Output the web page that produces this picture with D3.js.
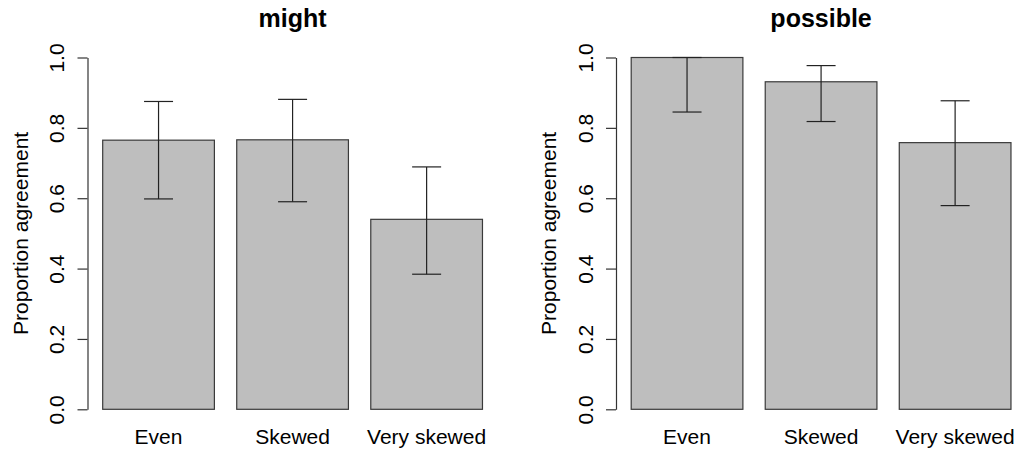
<!DOCTYPE html>
<html>
<head>
<meta charset="utf-8">
<script src="https://cdn.jsdelivr.net/npm/d3@7"></script>
<style>
  body { margin: 0; background: #fff; }
  svg { display: block; font-family: "Liberation Sans", Arial, Helvetica, sans-serif; }
</style>
</head>
<body>
<svg id="chart" width="1016" height="451"></svg>
<script>
const categories = ["Even", "Skewed", "Very skewed"];
const panelTitles = ["might", "possible"];
const mightValues = [0.765, 0.766, 0.540];
const mightLower = [0.598, 0.590, 0.384];
const mightUpper = [0.875, 0.881, 0.689];
const possibleValues = [1.000, 0.931, 0.758];
const possibleLower = [0.845, 0.818, 0.579];
const possibleUpper = [1.000, 0.977, 0.877];
const yTicks = [0, 0.2, 0.4, 0.6, 0.8, 1.0];
const yLabel = "Proportion agreement";

const panels = [
  { title: panelTitles[0], values: mightValues, lower: mightLower, upper: mightUpper, x0: 87.5 },
  { title: panelTitles[1], values: possibleValues, lower: possibleLower, upper: possibleUpper, x0: 616 }
];

const svg = d3.select("#chart");
const unitPx = 111.7;
const xlim = [0.064, 3.736];
const y = d3.scaleLinear().domain([0, 1]).range([409.3, 57.5]);
const fontSize = 21;

panels.forEach(p => {
  const x = d3.scaleLinear().domain(xlim).range([p.x0, p.x0 + (xlim[1] - xlim[0]) * unitPx]);
  const g = svg.append("g");

  // bars (R barplot: space 0.2, width 1)
  const barLeft = i => 0.2 + i * 1.2;
  g.selectAll("rect.bar").data(p.values).join("rect")
    .attr("class", "bar")
    .attr("x", (d, i) => x(barLeft(i)))
    .attr("width", (d, i) => x(barLeft(i) + 1) - x(barLeft(i)))
    .attr("y", d => y(d))
    .attr("height", d => y(0) - y(d))
    .attr("fill", "#bebebe")
    .attr("stroke", "#3a3a3a")
    .attr("stroke-width", 1.2);

  // error bars
  const cx = i => x(barLeft(i) + 0.5);
  const capHalf = 14.5;
  const eb = g.selectAll("g.err").data(p.values).join("g").attr("class", "err")
    .attr("stroke", "#222").attr("stroke-width", 1.2);
  eb.append("line").attr("x1", (d, i) => cx(i)).attr("x2", (d, i) => cx(i))
    .attr("y1", (d, i) => y(p.lower[i])).attr("y2", (d, i) => y(p.upper[i]));
  eb.append("line").attr("x1", (d, i) => cx(i) - capHalf).attr("x2", (d, i) => cx(i) + capHalf)
    .attr("y1", (d, i) => y(p.upper[i])).attr("y2", (d, i) => y(p.upper[i]));
  eb.append("line").attr("x1", (d, i) => cx(i) - capHalf).attr("x2", (d, i) => cx(i) + capHalf)
    .attr("y1", (d, i) => y(p.lower[i])).attr("y2", (d, i) => y(p.lower[i]));

  // y axis
  const axis = d3.axisLeft(y).tickValues(yTicks).tickSize(10).tickSizeOuter(0)
    .tickFormat(d3.format(".1f"));
  const ag = g.append("g").attr("transform", `translate(${p.x0},0)`).call(axis);
  ag.select(".domain").attr("stroke", "#333").attr("stroke-width", 1.2);
  ag.selectAll(".tick line").attr("stroke", "#333").attr("stroke-width", 1.2);
  ag.selectAll(".tick text")
    .attr("x", null).attr("dy", null)
    .attr("transform", "translate(-23.5,0) rotate(-90)")
    .attr("text-anchor", "middle")
    .attr("fill", "#000")
    .style("font-size", fontSize + "px")
    .style("font-family", "'Liberation Sans', Arial, sans-serif");

  // x category labels
  g.selectAll("text.cat").data(categories).join("text")
    .attr("class", "cat")
    .attr("x", (d, i) => cx(i))
    .attr("y", 444)
    .attr("text-anchor", "middle")
    .style("font-size", fontSize + "px")
    .text(d => d);

  // y label
  g.append("text")
    .attr("transform", `translate(${p.x0 - 60},${(y(0) + y(1)) / 2}) rotate(-90)`)
    .attr("text-anchor", "middle")
    .style("font-size", fontSize + "px")
    .text(yLabel);

  // title
  g.append("text")
    .attr("x", (x.range()[0] + x.range()[1]) / 2)
    .attr("y", 27)
    .attr("text-anchor", "middle")
    .style("font-size", "25px")
    .style("font-weight", "bold")
    .text(p.title);
});
</script>
</body>
</html>
